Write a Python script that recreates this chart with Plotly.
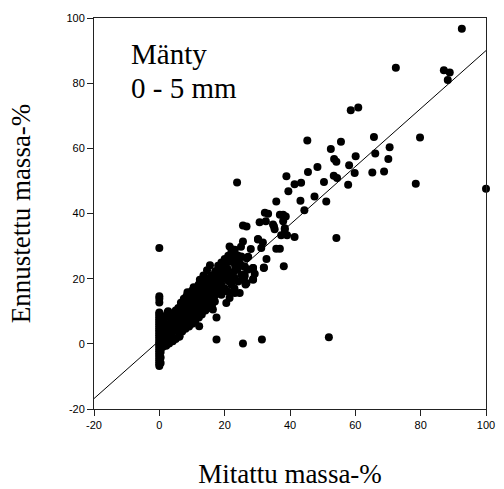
import plotly.graph_objects as go

# Outlying / sparse points (measured %, predicted %)
sparse_x = [92.6, 72.4, 87.1, 88.9, 88.3, 100.0, 79.8, 78.5, 58.6, 60.9, 45.3, 55.6, 65.7, 52.5,
            53.5, 54.2, 60.1, 66.1, 70.5, 70.1, 58.1, 59.8, 65.2, 68.8, 57.8, 48.4, 45.5, 53.4,
            54.4, 50.4, 47.5, 51.1, 43.2, 44.4, 38.9, 41.4, 43.4, 39.5, 37.9, 38.7, 38.4, 37.3,
            39.1, 41.4, 54.2, 38.1, 51.9, 36.9, 17.5, 25.6, 31.4, 12.2, 6.2, 2.7, 17.5, 35.8,
            32.8, 32.0, 28.7, 26.4, 25.6, 25.6, 26.7, 30.7, 32.6, 32.3, 33.3, 35.1, 35.8, 21.5,
            23.1, 28.0, 30.2, 12.4, 8.3, 23.8, 34.8, 35.3, 38.4, 30.2, 31.7, 31.2, 22.1, 23.1,
            24.1, 27.2, 26.1, 28.7, 28.7, 26.1, 26.7, 32.0, 18.5, 20.0, 17.5, 23.1, 21.5, 17.0,
            36.9, 38.2, 37.9, 26.7, 25.1, 24.6, 26.1, 27.2, 28.7, 29.2, 26.1, 25.6, 26.4, 24.6,
            20.5, 16.4, 14.4, 12.4, 9.3, 20.5, 16.4]
sparse_y = [96.7, 84.7, 84.0, 83.3, 81.0, 47.6, 63.3, 49.1, 71.7, 72.5, 62.4, 62.0, 63.5, 59.8,
            56.7, 55.9, 57.6, 58.4, 60.3, 56.7, 54.8, 52.4, 52.6, 52.9, 48.8, 54.3, 52.7, 51.6,
            50.9, 49.7, 45.2, 43.7, 43.9, 41.0, 51.4, 49.0, 49.4, 46.8, 39.6, 39.1, 35.0, 33.3,
            33.3, 32.8, 32.5, 23.8, 2.0, 29.2, 1.3, 0.1, 1.3, 5.4, 2.3, 10.0, 8.1, 29.2,
            26.0, 23.4, 19.7, 18.5, 31.4, 36.3, 36.0, 37.3, 37.6, 40.2, 39.9, 36.0, 43.7, 29.9,
            28.9, 29.1, 32.0, 19.7, 14.6, 49.5, 36.6, 35.2, 35.5, 32.2, 31.1, 29.4, 28.4, 26.8,
            26.0, 26.7, 23.6, 23.3, 19.9, 20.7, 18.7, 23.3, 19.7, 21.7, 22.2, 15.6, 14.1, 13.0,
            39.6, 39.1, 37.6, 26.3, 26.8, 24.8, 23.8, 22.8, 23.3, 21.5, 21.2, 19.7, 18.2, 15.6,
            24.8, 16.6, 16.6, 17.1, 13.6, 12.5, 10.5]

# Samples with measured value 0 %
zero_x = [0.0] * 35 + [0.4] * 12
zero_y = [-6.8, -6.3, -5.7, -5.1, -4.6, -4.0, -3.4, -2.9, -2.3, -1.8, -1.2, -0.7, -0.1, 0.4,
          0.9, 1.5, 2.0, 2.6, 3.1, 3.7, 4.2, 4.8, 5.3, 5.9, 6.4, 7.0, 7.5, 8.1, 8.6, 9.2,
          9.6, 12.7, 14.6, 29.4, 13.8,
          -5.9, -4.2, -2.5, -0.9, 0.8, 2.4, 3.9, 5.6, 7.2, 8.7, 6.1, 1.1]

# Dense cluster at low contents
dense_x = [1.0, 1.1, 0.9, 1.2, 1.0, 1.6, 1.4, 1.5, 1.7, 1.5, 2.1, 2.0, 1.9, 2.2, 2.0,
           3.0, 2.9, 3.1, 3.0, 2.8, 4.1, 3.9, 4.0, 4.2, 3.8, 5.0, 5.1, 4.9, 5.2, 5.0,
           6.1, 5.9, 6.0, 6.2, 5.8, 7.0, 7.1, 6.9, 7.2, 6.8, 8.0, 8.1, 7.9, 8.2, 7.8,
           9.1, 8.9, 9.0, 9.2, 8.8, 9.0, 10.1, 9.9, 10.0, 10.2, 9.8, 10.0, 11.0, 11.1,
           10.9, 11.2, 10.8, 11.0, 12.1, 11.9, 12.0, 12.2, 11.8, 12.0, 13.0, 13.1, 12.9,
           13.2, 12.8, 14.1, 13.9, 14.0, 14.2, 13.8, 14.0, 15.0, 15.1, 14.9, 15.2, 14.8,
           16.1, 15.9, 16.0, 16.2, 15.8, 17.0, 17.2, 16.9, 17.1, 18.1, 17.9, 18.2, 18.0,
           19.0, 19.1, 18.9, 19.2, 19.0, 20.1, 19.9, 20.2, 20.0, 21.0, 21.2, 20.9, 21.1,
           22.1, 21.9, 22.0, 22.2, 23.0, 23.1, 22.9, 23.2, 24.1, 23.9, 24.0, 25.1, 24.9,
           25.0, 6.6, 7.5, 8.6, 10.5, 12.6, 13.5, 14.6, 15.5, 3.5, 4.5, 2.5]
dense_y = [-1.0, 1.1, 3.2, 5.0, 7.1, 0.2, 2.1, 4.0, 6.2, 8.0, -0.6, 1.4, 3.6, 5.5, 8.3,
           0.1, 2.0, 4.1, 6.0, 8.4, 0.8, 3.1, 5.0, 7.2, 9.3, 1.5, 4.0, 6.1, 8.2, 10.2,
           2.2, 4.9, 7.0, 9.1, 11.0, 3.8, 6.1, 8.0, 10.2, 12.1, 4.6, 7.1, 9.0, 11.2, 13.3,
           5.3, 7.0, 9.2, 11.0, 13.1, 15.2, 6.2, 8.1, 10.0, 12.0, 14.6, 16.3, 7.0, 9.2,
           11.1, 13.0, 15.1, 17.0, 8.1, 10.0, 12.2, 14.8, 16.0, 18.1, 9.0, 11.2, 13.1,
           15.3, 17.2, 10.2, 12.1, 14.6, 16.1, 18.0, 20.0, 11.0, 13.1, 15.2, 17.1, 19.2,
           11.8, 14.1, 16.6, 19.0, 21.0, 14.8, 18.0, 20.1, 22.3, 16.2, 19.1, 21.0, 24.0,
           15.1, 18.0, 20.2, 23.1, 25.0, 16.9, 20.1, 22.0, 26.0, 16.0, 19.2, 23.0, 27.0,
           18.1, 21.0, 25.2, 29.0, 17.0, 20.1, 22.2, 24.0, 19.1, 23.0, 27.1, 21.2, 24.1,
           29.8, 12.6, 13.8, 15.8, 17.4, 19.4, 21.0, 22.6, 24.1, 6.6, 7.6, 9.6]

# Regression line parameters
line_intercept = 1.0
line_slope = 0.89
x_range = [-20, 100]
y_range = [-20, 100]
tick_vals = [-20, 0, 20, 40, 60, 80, 100]
tick_text = ["-20", "0", "20", "40", "60", "80", "100"]
label_lines = ["Mänty", "0 - 5 mm"]

all_x = sparse_x + zero_x + dense_x
all_y = sparse_y + zero_y + dense_y

fig = go.Figure()
fig.add_trace(go.Scatter(
    x=all_x, y=all_y, mode="markers",
    marker=dict(color="black", size=8, line=dict(width=0)),
    showlegend=False, cliponaxis=False,
))
fig.add_trace(go.Scatter(
    x=x_range, y=[line_intercept + line_slope * v for v in x_range],
    mode="lines", line=dict(color="black", width=1), showlegend=False,
))

axis_common = dict(
    showgrid=False, zeroline=False, showline=True, linecolor="#222", linewidth=1,
    mirror=True, ticks="outside", ticklen=6, tickwidth=1, tickcolor="#222",
    tickvals=tick_vals, ticktext=tick_text,
    tickfont=dict(family="Liberation Sans, Arial", size=11, color="black"),
)
serif = "Liberation Serif"
fig.update_xaxes(range=x_range, **axis_common,
                 title=dict(text="Mitattu massa-%", standoff=33,
                            font=dict(family=serif, size=27, color="black")))
fig.update_yaxes(range=y_range, **axis_common,
                 title=dict(text="Ennustettu massa-%", standoff=27,
                            font=dict(family=serif, size=27, color="black")))

for txt, ypos in zip(label_lines, [0.907, 0.821]):
    fig.add_annotation(
        x=0.089, y=ypos, xref="paper", yref="paper", xanchor="left", yanchor="middle",
        text=txt, showarrow=False, align="left",
        font=dict(family=serif, size=29, color="black"),
    )

fig.update_layout(
    width=504, height=489,
    margin=dict(l=94, r=18, t=18, b=80, autoexpand=False),
    plot_bgcolor="white", paper_bgcolor="white",
)

fig.write_html("out.html")
